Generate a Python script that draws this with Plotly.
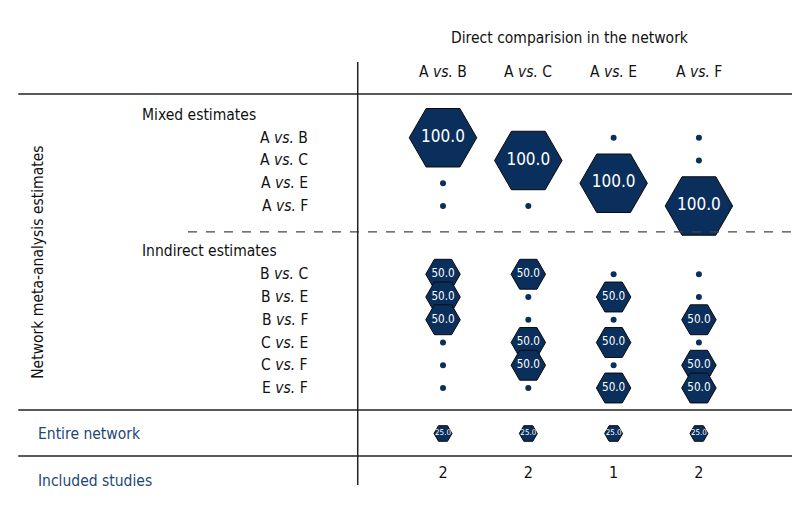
import plotly.graph_objects as go

# ---------------- data ----------------
column_labels = ["A <i>vs.</i> B", "A <i>vs.</i> C", "A <i>vs.</i> E", "A <i>vs.</i> F"]
mixed_labels = ["A <i>vs.</i> B", "A <i>vs.</i> C", "A <i>vs.</i> E", "A <i>vs.</i> F"]
indirect_labels = ["B <i>vs.</i> C", "B <i>vs.</i> E", "B <i>vs.</i> F",
                   "C <i>vs.</i> E", "C <i>vs.</i> F", "E <i>vs.</i> F"]
# contribution (%) of each direct comparison (columns) to each estimate (rows)
mixed_values = [
    [100, 0, 0, 0],
    [0, 100, 0, 0],
    [0, 0, 100, 0],
    [0, 0, 0, 100],
]
indirect_values = [
    [50, 50, 0, 0],
    [50, 0, 50, 0],
    [50, 0, 0, 50],
    [0, 50, 50, 0],
    [0, 50, 0, 50],
    [0, 0, 50, 50],
]
entire_network = [25.0, 25.0, 25.0, 25.0]
included_studies = [2, 2, 1, 2]

title_text = "Direct comparision in the network"
y_title = "Network meta-analysis estimates"
mixed_header = "Mixed estimates"
indirect_header = "Inndirect estimates"
entire_label = "Entire network"
studies_label = "Included studies"

# ---------------- styling ----------------
FONT = "Liberation Sans Narrow, DejaVu Sans Condensed, Arial Narrow, sans-serif"
FS = 15.5
NAVY = "#0b2f5c"
LABEL_BLUE = "#1d4775"
TEXT = "#111111"
LINE = "#222222"

# row slots on the y axis
mixed_slots = [1, 2, 3, 4]
indirect_slots = [7, 8, 9, 10, 11, 12]
entire_slot = 14
studies_slot = 15.8
col_x = [1, 2, 3, 4]

dot_x, dot_y = [], []
hex_x, hex_y, hex_v = [], [], []
for slots, values in ((mixed_slots, mixed_values), (indirect_slots, indirect_values)):
    for s, row in zip(slots, values):
        for cx, v in zip(col_x, row):
            if v > 0:
                hex_x.append(cx); hex_y.append(s); hex_v.append(v)
            else:
                dot_x.append(cx); dot_y.append(s)
for cx, v in zip(col_x, entire_network):
    hex_x.append(cx); hex_y.append(entire_slot); hex_v.append(v)

fig = go.Figure()
fig.add_trace(go.Scatter(
    x=dot_x, y=dot_y, mode="markers",
    marker=dict(symbol="circle", size=6, color=NAVY, opacity=1, line=dict(width=0)),
    hoverinfo="skip"))
fig.add_trace(go.Scatter(
    x=hex_x, y=hex_y, mode="markers+text",
    text=[f"{v:.1f}" for v in hex_v],
    textposition="middle center",
    textfont=dict(family=FONT, color="white", size=[17 * (v / 100) ** 0.55 for v in hex_v]),
    marker=dict(symbol="hexagon2", size=[v * 0.66 + 1.5 for v in hex_v], color=NAVY, opacity=1,
                line=dict(color="#0a0a0a", width=1)),
    hoverinfo="skip"))
fig.add_trace(go.Scatter(
    x=col_x, y=[studies_slot] * 4, mode="text",
    text=[str(n) for n in included_studies],
    textfont=dict(family=FONT, color=TEXT, size=16),
    hoverinfo="skip"))

def f(color=TEXT):
    return dict(family=FONT, size=FS, color=color)

ann = []
ann.append(dict(x=2.49, y=-3.38, text=title_text, showarrow=False, font=f()))
for cx, lab in zip(col_x, column_labels):
    ann.append(dict(x=cx, y=-1.9, text=lab, showarrow=False, font=f()))
ann.append(dict(x=-2.55, y=0, text=mixed_header, showarrow=False, xanchor="left", font=f()))
ann.append(dict(x=-2.55, y=6, text=indirect_header, showarrow=False, xanchor="left", font=f()))
for s, lab in zip(mixed_slots, mixed_labels):
    ann.append(dict(x=-0.56, y=s, text=lab, showarrow=False, xanchor="right", font=f()))
for s, lab in zip(indirect_slots, indirect_labels):
    ann.append(dict(x=-0.56, y=s, text=lab, showarrow=False, xanchor="right", font=f()))
ann.append(dict(x=-3.77, y=entire_slot, text=entire_label, showarrow=False, xanchor="left",
                font=f(LABEL_BLUE)))
ann.append(dict(x=-3.77, y=16.1, text=studies_label, showarrow=False, xanchor="left",
                font=f(LABEL_BLUE)))
ann.append(dict(x=-3.75, y=6.46, text=y_title, showarrow=False, textangle=-90, font=f()))

shapes = [
    dict(type="line", x0=-3.98, x1=5.4, y0=-0.92, y1=-0.92, line=dict(color=LINE, width=1.5)),
    dict(type="line", x0=-1.99, x1=5.4, y0=5.14, y1=5.14, line=dict(color="#444444", width=1.3, dash="dash")),
    dict(type="line", x0=-3.98, x1=5.4, y0=12.97, y1=12.97, line=dict(color=LINE, width=1.5)),
    dict(type="line", x0=-3.98, x1=5.4, y0=14.99, y1=14.99, line=dict(color=LINE, width=1.5)),
    dict(type="line", x0=0, x1=0, y0=-2.33, y1=16.26, line=dict(color=LINE, width=1.5)),
]

fig.update_layout(
    width=800, height=520, margin=dict(l=0, r=0, t=0, b=0),
    paper_bgcolor="white", plot_bgcolor="white", showlegend=False,
    xaxis=dict(range=[-4.100, 5.279], visible=False, fixedrange=True),
    yaxis=dict(range=[18.154, -4.703], visible=False, fixedrange=True),
    annotations=ann, shapes=shapes,
)
fig.write_html("out.html")
